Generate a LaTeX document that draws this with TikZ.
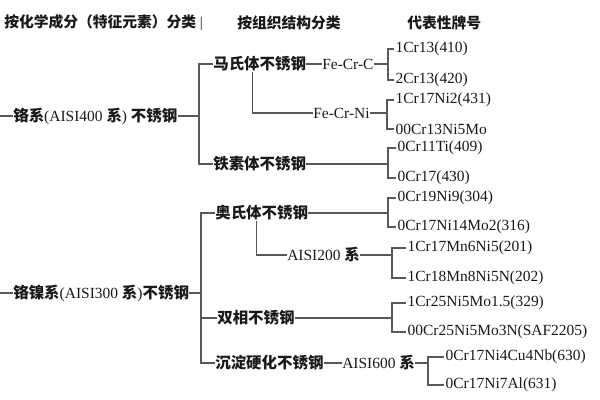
\documentclass[tikz,border=0pt]{standalone}
\usepackage{fontspec}
\setmainfont{Liberation Serif}
\newfontfamily\zhfont{Noto Sans CJK SC}
\newcommand{\zh}[1]{{\zhfont\bfseries #1}}
\usetikzlibrary{calc}

\begin{document}
\begin{tikzpicture}[x=0.025cm, y=-0.025cm,
    txt/.style={anchor=west, inner sep=0pt, text=black!90, font=\fontsize{11}{13}\selectfont},
    hd/.style={txt, font=\fontsize{10.5}{12}\selectfont},
    grade/.style={txt, inner xsep=1pt},
    br/.style={draw=black!65, line width=0.8pt}]
  \useasboundingbox (0,0) rectangle (600,400);

  % column headings
  \node[hd] (h1) at (4,23) {\zh{按化学成分（特征元素）分类} |};
  \node[hd] (h2) at (237,23) {\zh{按组织结构分类}};
  \node[hd] (h3) at (407,23) {\zh{代表性牌号}};

  % chemical composition
  \node[txt] (cr) at (13,116) {\zh{铬系}(AISI400 \zh{系}) \zh{不锈钢}};
  \node[txt] (crni) at (13,293) {\zh{铬镍系}(AISI300 \zh{系})\zh{不锈钢}};
  \coordinate (s1) at (0,116);
  \coordinate (s2) at (0,293);
  \coordinate (b1) at (199,116);
  \coordinate (b2) at (201,293);

  % structure
  \node[txt] (ms) at (213,64) {\zh{马氏体不锈钢}};
  \node[txt] (fcc) at (322,64) {Fe-Cr-C};
  \node[txt] (fcn) at (313,113) {Fe-Cr-Ni};
  \node[txt] (ft) at (213,164) {\zh{铁素体不锈钢}};
  \node[txt] (au) at (215,213) {\zh{奥氏体不锈钢}};
  \node[txt] (a2) at (287,255) {AISI200 \zh{系}};
  \node[txt] (dp) at (217,318) {\zh{双相不锈钢}};
  \node[txt] (ph) at (215,363) {\zh{沉淀硬化不锈钢}};
  \node[txt] (a6) at (342,363) {AISI600 \zh{系}};

  % grades
  \node[grade] (g1) at (394,49) {1Cr13(410)};
  \node[grade] (g2) at (394,80) {2Cr13(420)};
  \node[grade] (g3) at (394,100) {1Cr17Ni2(431)};
  \node[grade] (g4) at (394,129) {00Cr13Ni5Mo};
  \node[grade] (g5) at (396,148) {0Cr11Ti(409)};
  \node[grade] (g6) at (396,178) {0Cr17(430)};
  \node[grade] (g7) at (396,198) {0Cr19Ni9(304)};
  \node[grade] (g8) at (396,227) {0Cr17Ni14Mo2(316)};
  \node[grade] (g9) at (406,248) {1Cr17Mn6Ni5(201)};
  \node[grade] (g10) at (406,278) {1Cr18Mn8Ni5N(202)};
  \node[grade] (g11) at (406,303) {1Cr25Ni5Mo1.5(329)};
  \node[grade] (g12) at (406,332) {00Cr25Ni5Mo3N(SAF2205)};
  \node[grade] (g13) at (444,357) {0Cr17Ni4Cu4Nb(630)};
  \node[grade] (g14) at (444,385) {0Cr17Ni7Al(631)};
  \coordinate (j1) at (388,64);
  \coordinate (j2) at (387,113);
  \coordinate (j3) at (388,164);
  \coordinate (j4) at (388,213);
  \coordinate (j5) at (392,255);
  \coordinate (j6) at (392,318);
  \coordinate (j7) at (428,363);

  % connectors
  \draw[br] (s1) -- (cr.west);
  \draw[br] (cr.east) -- (b1);
  \draw[br] (ms.west) -| (b1) |- (ft.west); % chromium bracket
  \draw[br] (s2) -- (crni.west);
  \draw[br] (crni.east) -- (b2);
  \draw[br] (au.west) -| (b2) |- (ph.west); % chromium-nickel bracket
  \draw[br] (dp.west) -- (dp.west -| b2);

  \draw[br] (ms.east) -- (fcc.west);
  \draw[br] ($(ms.south)+(-7,0)$) |- (fcn.west);
  \draw[br] ($(au.south)+(-5,0)$) |- (a2.west);
  \draw[br] (ph.east) -- (a6.west);

  \draw[br] (fcc.east) -- (j1);
  \draw[br] (g1.west) -| (j1) |- (g2.west);
  \draw[br] (fcn.east) -- (j2);
  \draw[br] (g3.west) -| (j2) |- (g4.west);
  \draw[br] (ft.east) -- (j3);
  \draw[br] (g5.west) -| (j3) |- (g6.west);
  \draw[br] (au.east) -- (j4);
  \draw[br] (g7.west) -| (j4) |- (g8.west);
  \draw[br] (a2.east) -- (j5);
  \draw[br] (g9.west) -| (j5) |- (g10.west);
  \draw[br] (dp.east) -- (j6);
  \draw[br] (g11.west) -| (j6) |- (g12.west);
  \draw[br] (a6.east) -- (j7);
  \draw[br] (g13.west) -| (j7) |- (g14.west);
\end{tikzpicture}
\end{document}
